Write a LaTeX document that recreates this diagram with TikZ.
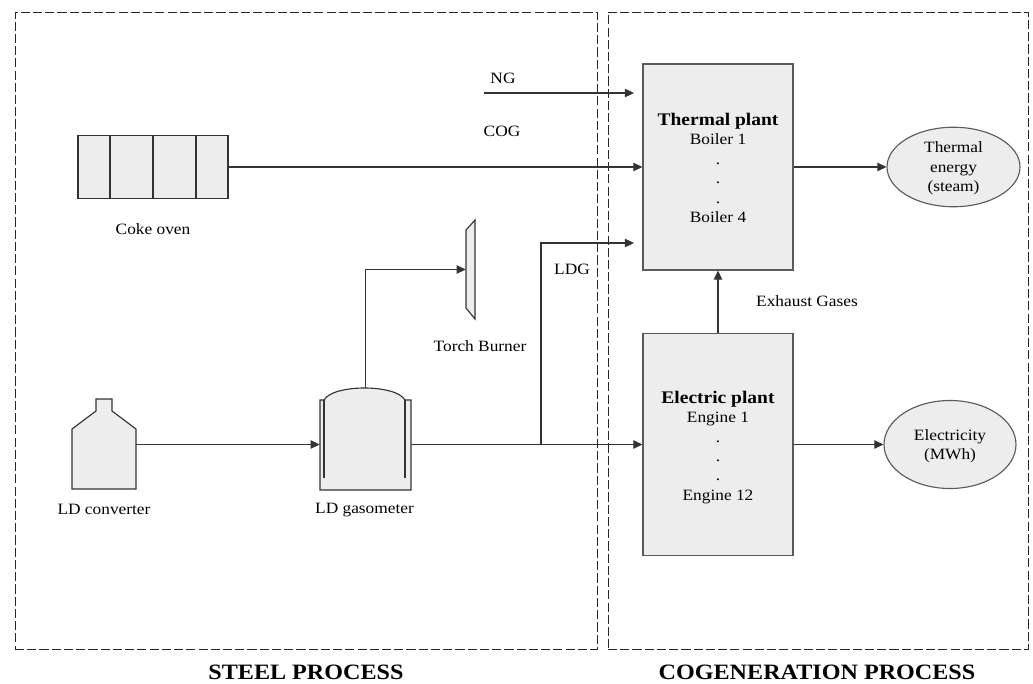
\documentclass[tikz,border=0pt]{standalone}
\usepackage{fontspec}
\setmainfont[FakeStretch=1.1]{Liberation Serif}
\usepackage{tikz}
\usetikzlibrary{arrows.meta, positioning, shapes.geometric}
\usepackage{xcolor}
\definecolor{unitfill}{HTML}{EDEDED}
\definecolor{unitline}{HTML}{333333}
\definecolor{plantline}{HTML}{5A5A5A}

\begin{document}
\begin{tikzpicture}[
    x=0.025cm, y=-0.025cm,
    node distance=1cm and 2cm,
    unit/.style={
        rectangle, draw=unitline, line width=0.8pt, fill=unitfill,
        inner sep=0pt, align=center, text=black,
        font=\fontsize{11.2}{13.8}\selectfont
    },
    plant/.style={unit, draw=plantline, minimum width=150*0.025cm},
    plain/.style={rectangle, inner sep=0pt, minimum width=0pt},
    product/.style={
        ellipse, draw=plantline, line width=0.8pt, fill=unitfill,
        inner sep=0pt, align=center,
        font=\fontsize{11.2}{13.8}\selectfont
    },
    lbl/.style={inner sep=0pt, align=center, font=\fontsize{11.2}{13.8}\selectfont},
    title/.style={inner sep=0pt, font=\fontsize{15.6}{17}\selectfont\bfseries},
    area/.style={draw=black!85, line width=0.6pt, dash pattern=on 6.5pt off 2.2pt},
    arr/.style={-{Triangle[length=6.5pt,width=6pt]}, line width=0.8pt, unitline},
    pipe/.style={line width=0.8pt, unitline},
]
\useasboundingbox (0,0) rectangle (1033,684);

% ── Process areas ────────────────────
\node[area, rectangle, inner sep=0pt, minimum width=582*0.025cm, minimum height=637*0.025cm] (steel) at (306,330.5) {};
\node[area, rectangle, inner sep=0pt, minimum width=420*0.025cm, minimum height=637*0.025cm] (cogen) at (818,330.5) {};
\node[title] (steeltxt) at (306,672) {STEEL PROCESS};
\node[title] (cogentxt) at (817,672) {COGENERATION PROCESS};

% ── Plants ───────────────────────────
\node[plant, minimum height=206*0.025cm] (thermal) at (718,167)
    {\rule{0pt}{10pt}{\fontsize{12.6}{13.8}\selectfont\bfseries Thermal plant}\\Boiler 1\\.\\.\\.\\Boiler 4};
\node[plant, minimum height=222*0.025cm] (electric) at (718,444.5)
    {\rule{0pt}{12.7pt}{\fontsize{12.6}{13.8}\selectfont\bfseries Electric plant}\\Engine 1\\.\\.\\.\\Engine 12};

% ── Products ─────────────────────────
\node[product, minimum width=133*0.025cm, minimum height=75*0.025cm] (steam) at (953.5,167)
    {\rule{0pt}{10pt}Thermal\\energy\\(steam)};
\node[product, minimum width=132*0.025cm, minimum height=88*0.025cm] (power) at (950,444.5)
    {\rule{0pt}{10pt}Electricity\\(MWh)};

% ── Coke oven ────────────────────────
\node[unit, minimum width=150*0.025cm, minimum height=63*0.025cm] (coke) at (153,167) {};
\draw[pipe] (110,136) -- (110,199) (153,136) -- (153,199) (196,136) -- (196,199);
\node[lbl, below=0.6cm of coke] (coketxt) {Coke oven};

% ── LD converter ─────────────────────
\node[plain, minimum width=64*0.025cm, minimum height=90*0.025cm] (conv) at (104,444.5) {};
\draw[pipe, fill=unitfill] (72,489) -- (72,429) -- (96,411) -- (96,399) -- (112,399)
    -- (112,411) -- (136,429) -- (136,489) -- cycle;
\node[lbl, below=0.36cm of conv] (convtxt) {LD converter};

% ── LD gasometer ─────────────────────
\node[plain, minimum width=91*0.025cm, minimum height=90*0.025cm] (gas) at (365.5,444.5) {};
\draw[pipe, fill=unitfill] (320,400) -- (320,490) -- (411,490) -- (411,400) -- (405,400)
    .. controls (396,384) and (333,384) .. (324,400) -- cycle;
\draw[pipe] (324,400) -- (324,478) (405,400) -- (405,478);
\coordinate (gastop) at (365.5,388);
\node[lbl, below=0.33cm of gas, xshift=-0.025cm] (gastxt) {LD gasometer};

% ── Torch burner ─────────────────────
\node[plain, minimum width=9*0.025cm, minimum height=99*0.025cm] (torch) at (470.5,269.5) {};
\draw[pipe, fill=unitfill] (466,230) -- (475,220) -- (475,319) -- (466,308) -- cycle;
\node[lbl] (torchtxt) at (480,346) {Torch Burner};

% ── Free ends ────────────────────────
\coordinate (ngstart) at (484,93);
\coordinate (ngend) at (634,93);
\coordinate (ldgend) at (634,243);
\coordinate (ldgjoin) at (541,444.5);
\coordinate (ldgturn) at (541,243);

% ── Gas lines ────────────────────────
\draw[arr] (ngstart) -- (ngend);
\draw[arr] (coke) -- (thermal);
\draw[arr] (conv) -- (gas);
\draw[arr] (gastop) |- (torch.west);
\draw[arr] (gas) -- (electric);
\draw[arr] (ldgjoin) -- (ldgturn) -- (ldgend);

% ── Outputs ──────────────────────────
\draw[arr] (electric) -- (thermal);
\draw[arr] (thermal) -- (steam);
\draw[arr] (electric) -- (power);

% ── Line labels ──────────────────────
\node[lbl] (ngtxt) at (503,78) {NG};
\node[lbl] (cogtxt) at (502,131) {COG};
\node[lbl] (ldgtxt) at (572,269) {LDG};
\node[lbl] (exhtxt) at (807,301) {Exhaust Gases};

\end{tikzpicture}
\end{document}
